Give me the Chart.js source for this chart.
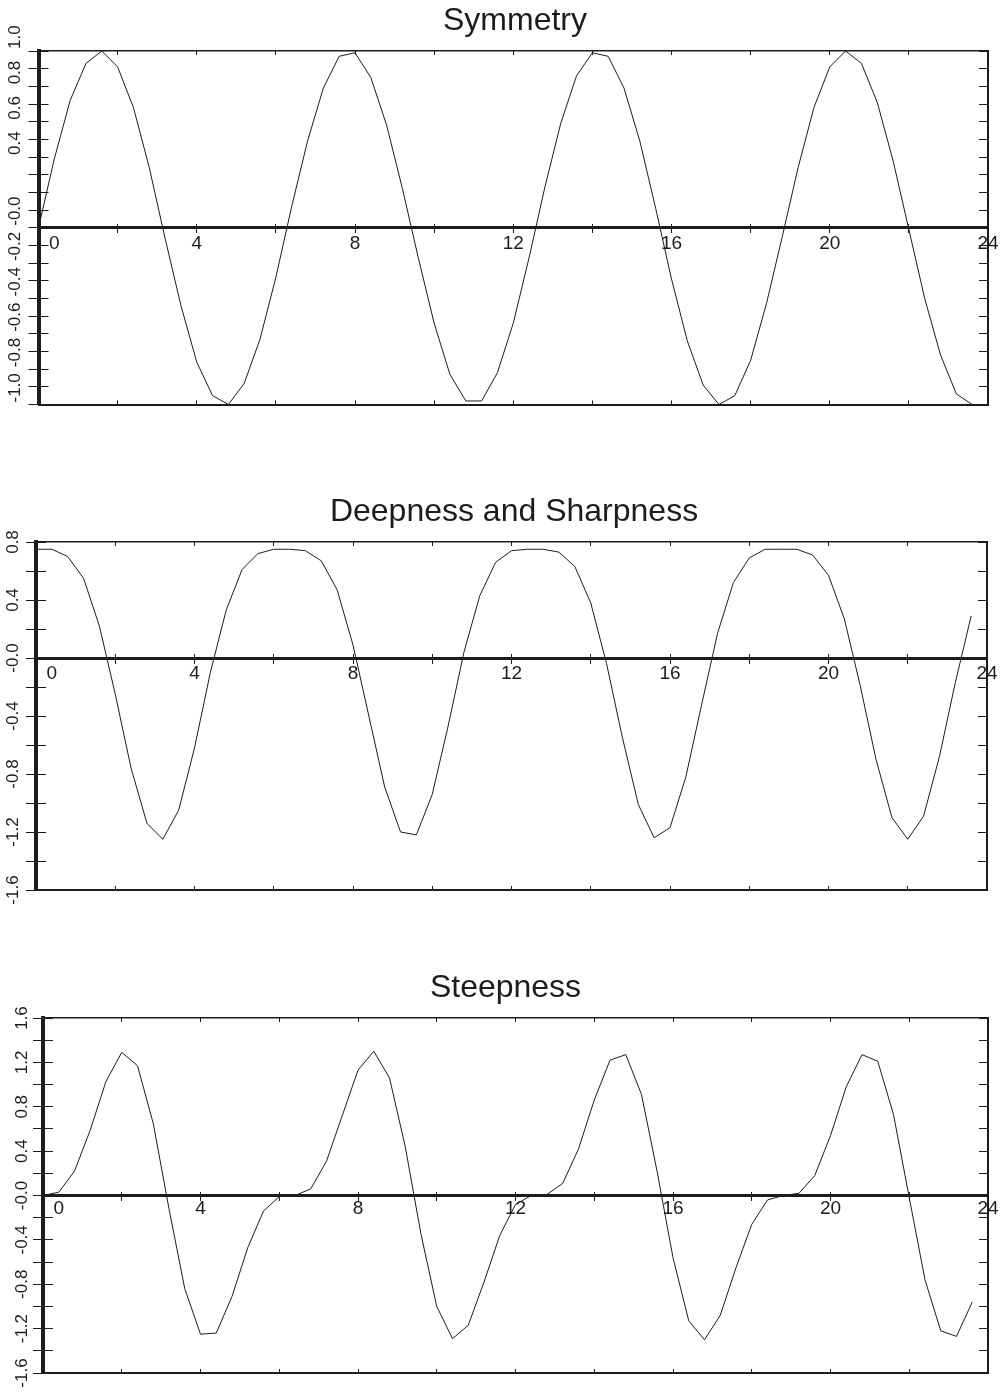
<!DOCTYPE html>
<html>
<head>
<meta charset="utf-8">
<script src="https://cdn.jsdelivr.net/npm/chart.js@4.4.1/dist/chart.umd.min.js"></script>
<style>
html, body { margin: 0; padding: 0; background: #ffffff; overflow: hidden; }
body { width: 1004px; height: 1395px; position: relative; }
canvas { position: absolute; left: 0; }
</style>
</head>
<body>
<canvas id="symmetry-chart"></canvas>
<canvas id="deepness-chart"></canvas>
<canvas id="steepness-chart"></canvas>
<script>
// sample positions shared by all three curves
const x_values = [0, 0.4, 0.8, 1.2, 1.6, 2, 2.4, 2.8, 3.2, 3.6,
    4, 4.4, 4.8, 5.2, 5.6, 6, 6.4, 6.8, 7.2, 7.6,
    8, 8.4, 8.8, 9.2, 9.6, 10, 10.4, 10.8, 11.2, 11.6,
    12, 12.4, 12.8, 13.2, 13.6, 14, 14.4, 14.8, 15.2, 15.6,
    16, 16.4, 16.8, 17.2, 17.6, 18, 18.4, 18.8, 19.2, 19.6,
    20, 20.4, 20.8, 21.2, 21.6, 22, 22.4, 22.8, 23.2, 23.6];

const symmetry_values = [0.00, 0.39, 0.72, 0.93, 1.00, 0.91, 0.68, 0.34, -0.06, -0.44,
    -0.76, -0.95, -1.00, -0.88, -0.63, -0.28, 0.12, 0.49, 0.79, 0.97,
    0.99, 0.85, 0.58, 0.22, -0.17, -0.54, -0.83, -0.98, -0.98, -0.82,
    -0.54, -0.17, 0.23, 0.59, 0.86, 0.99, 0.97, 0.79, 0.49, 0.11,
    -0.29, -0.64, -0.89, -1.00, -0.95, -0.75, -0.43, -0.05, 0.34, 0.68,
    0.91, 1.00, 0.93, 0.71, 0.38, -0.01, -0.40, -0.72, -0.94, -1.00];

const deepness_values = [0.75, 0.75, 0.70, 0.55, 0.22, -0.25, -0.76, -1.14, -1.25, -1.05,
    -0.62, -0.10, 0.33, 0.61, 0.72, 0.75, 0.75, 0.74, 0.67, 0.47,
    0.09, -0.40, -0.89, -1.20, -1.22, -0.94, -0.47, 0.04, 0.43, 0.66,
    0.74, 0.75, 0.75, 0.73, 0.63, 0.38, -0.04, -0.55, -1.01, -1.24,
    -1.17, -0.82, -0.32, 0.17, 0.52, 0.69, 0.75, 0.75, 0.75, 0.71,
    0.57, 0.27, -0.19, -0.70, -1.10, -1.25, -1.09, -0.68, -0.17, 0.29];

const steepness_values = [0.00, 0.03, 0.22, 0.59, 1.03, 1.29, 1.17, 0.65, -0.12, -0.84,
    -1.25, -1.24, -0.91, -0.47, -0.14, -0.01, 0.00, 0.06, 0.31, 0.72,
    1.13, 1.30, 1.06, 0.44, -0.35, -1.00, -1.29, -1.17, -0.78, -0.36,
    -0.08, 0.00, 0.01, 0.11, 0.42, 0.86, 1.22, 1.27, 0.91, 0.21,
    -0.56, -1.13, -1.30, -1.08, -0.65, -0.26, -0.04, 0.00, 0.02, 0.18,
    0.54, 0.98, 1.27, 1.21, 0.73, -0.02, -0.76, -1.22, -1.27, -0.96];

// x ticks (every 2), labels every 4
const x_tick_values = [0, 2, 4, 6, 8, 10, 12, 14, 16, 18, 20, 22, 24];
const x_tick_labels = ['      0', '', '4', '', '8', '', '12', '', '16', '', '20', '', '24'];

const symmetry_tick_values = [-1.0, -0.9, -0.8, -0.7, -0.6, -0.5, -0.4, -0.3, -0.2, -0.1, 0,
    0.1, 0.2, 0.3, 0.4, 0.5, 0.6, 0.7, 0.8, 0.9, 1.0];
const symmetry_tick_labels = ['-1.0', '', '-0.8', '', '-0.6', '', '-0.4', '', '-0.2', '', '-0.0',
    '', '', '', '0.4', '', '0.6', '', '0.8', '', '1.0'];

const deepness_tick_values = [-1.6, -1.4, -1.2, -1.0, -0.8, -0.6, -0.4, -0.2, 0, 0.2, 0.4, 0.6, 0.8];
const deepness_tick_labels = ['-1.6', '', '-1.2', '', '-0.8', '', '-0.4', '', '-0.0', '', '0.4', '', '0.8'];

const steepness_tick_values = [-1.6, -1.4, -1.2, -1.0, -0.8, -0.6, -0.4, -0.2, 0,
    0.2, 0.4, 0.6, 0.8, 1.0, 1.2, 1.4, 1.6];
const steepness_tick_labels = ['-1.6', '', '-1.2', '', '-0.8', '', '-0.4', '', '-0.0',
    '', '0.4', '', '0.8', '', '1.2', '', '1.6'];

const font_family = '"Liberation Sans", Arial, Helvetica, sans-serif';
const ink = '#1c1c1c';

function fixedTicks(values)
{
    return function(scale) {
        scale.ticks = values.map(v => ({value: v}));
    };
}

function fixedSize(size)
{
    return function(scale) {
        if (scale.isHorizontal())
            scale.height = size;
        else
            scale.width = size;
        scale.paddingTop = 0;
        scale.paddingBottom = 0;
        scale.paddingLeft = 0;
        scale.paddingRight = 0;
    };
}

// an axis that only draws tick marks (and maybe its border line)
function markAxis(axis, position, range, tick_values, tick_length, border_width, weight)
{
    return {
        axis: axis,
        type: 'linear',
        position: position,
        weight: weight || 0,
        min: range[0],
        max: range[1],
        afterBuildTicks: fixedTicks(tick_values),
        afterFit: fixedSize(0),
        ticks: { display: false, autoSkip: false },
        grid: { drawOnChartArea: false, drawTicks: true, tickLength: tick_length, color: ink, lineWidth: 1 },
        border: { display: border_width > 0, width: border_width, color: ink }
    };
}

function makeChart(id, box, title, values, y_range, y_tick_values, y_tick_labels)
{
    const canvas = document.getElementById(id);
    canvas.width = box.width;
    canvas.height = box.height;
    canvas.style.top = box.top + 'px';

    const points = x_values.map((x, i) => ({x: x, y: values[i]}));
    const x_range = [0, 24];

    let right_axis = markAxis('y', 'right', y_range, y_tick_values, -9, 2);
    right_axis.afterFit = fixedSize(box.right_width);

    return new Chart(canvas.getContext('2d'), {
        type: 'line',
        data: {
            datasets: [{
                data: points,
                xAxisID: 'x',
                yAxisID: 'y',
                borderColor: ink,
                borderWidth: 1,
                pointRadius: 0,
                tension: 0,
                fill: false
            }]
        },
        options: {
            responsive: false,
            animation: false,
            devicePixelRatio: 1,
            layout: { padding: { left: box.pad_left, right: 0, top: 0, bottom: box.pad_bottom } },
            plugins: {
                legend: { display: false },
                tooltip: { enabled: false },
                title: {
                    display: true,
                    text: title,
                    color: ink,
                    font: { family: font_family, size: 32, weight: 'normal' },
                    padding: { top: 2, bottom: 10.6 }
                }
            },
            scales: {
                x: markAxis('x', 'bottom', x_range, x_tick_values, -4, 2),
                xTop: markAxis('x', 'top', x_range, x_tick_values, -4, 1.5),
                xZeroUp: markAxis('x', {y: 0}, x_range, x_tick_values, -4, 0),
                xZero: {
                    axis: 'x',
                    type: 'linear',
                    position: {y: 0},
                    min: 0,
                    max: 24,
                    afterBuildTicks: fixedTicks(x_tick_values),
                    afterFit: fixedSize(0),
                    ticks: {
                        autoSkip: false,
                        maxRotation: 0,
                        padding: box.x_label_pad,
                        color: ink,
                        font: { family: font_family, size: 19 },
                        callback: (v, i) => x_tick_labels[i]
                    },
                    grid: { drawOnChartArea: false, drawTicks: true, tickLength: 4, color: ink, lineWidth: 1 },
                    border: { display: true, width: 3, color: ink }
                },
                yIn: markAxis('y', 'left', y_range, y_tick_values, -10, 0, 0),
                y: {
                    axis: 'y',
                    type: 'linear',
                    position: 'left',
                    weight: 1,
                    min: y_range[0],
                    max: y_range[1],
                    afterBuildTicks: fixedTicks(y_tick_values),
                    afterFit: fixedSize(box.y_width),
                    ticks: {
                        autoSkip: false,
                        minRotation: 90,
                        maxRotation: 90,
                        crossAlign: box.cross,
                        align: 'start',
                        padding: box.label_pad,
                        labelOffset: box.label_offset,
                        color: ink,
                        font: { family: font_family, size: 17 },
                        callback: (v, i) => y_tick_labels[i]
                    },
                    grid: { drawOnChartArea: false, drawTicks: true, tickLength: 10, color: ink, lineWidth: 1 },
                    border: { display: true, width: 4, color: ink }
                },
                yRight: right_axis
            }
        }
    });
}

makeChart('symmetry-chart',
    { top: 0, width: 1023, height: 440, pad_left: 7, pad_bottom: 35.5, y_width: 31.5, right_width: 35,
      cross: 'far', label_pad: 0, label_offset: -2, x_label_pad: 1 },
    'Symmetry', symmetry_values, [-1, 1], symmetry_tick_values, symmetry_tick_labels);

makeChart('deepness-chart',
    { top: 491, width: 1028, height: 439, pad_left: 0, pad_bottom: 40, y_width: 36, right_width: 41,
      cross: 'center', label_pad: 7, label_offset: 0, x_label_pad: 0 },
    'Deepness and Sharpness', deepness_values, [-1.6, 0.8], deepness_tick_values, deepness_tick_labels);

makeChart('steepness-chart',
    { top: 967, width: 1011, height: 428, pad_left: 0, pad_bottom: 22, y_width: 43, right_width: 23,
      cross: 'center', label_pad: 4.7, label_offset: 0, x_label_pad: -2 },
    'Steepness', steepness_values, [-1.6, 1.6], steepness_tick_values, steepness_tick_labels);
</script>
</body>
</html>
